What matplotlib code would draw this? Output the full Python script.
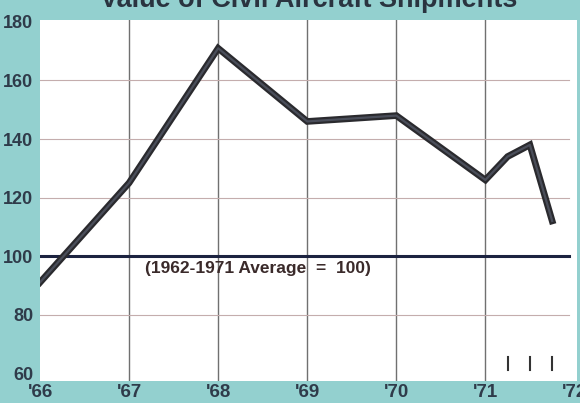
import matplotlib.pyplot as plt

# Value of civil aircraft shipments index (1962-1971 average = 100)
years = [1966.0, 1967.0, 1968.0, 1969.0, 1970.0, 1971.0, 1971.25, 1971.5, 1971.75]
values = [91, 125, 171, 146, 148, 126, 134, 138, 112]

x_ticks = [1966, 1967, 1968, 1969, 1970, 1971, 1972]
x_labels = ["'66", "'67", "'68", "'69", "'70", "'71", "'72"]
y_ticks = [60, 80, 100, 120, 140, 160, 180]
quarter_marks = [1971.25, 1971.5, 1971.75]

bg = "#93d0cf"
ink = "#2f3b4a"
plt.rcParams['font.family'] = ["Liberation Sans", "DejaVu Sans"]

fig = plt.figure(figsize=(5.8, 4.03), dpi=100, facecolor=bg)
ax = fig.add_axes([0.069, 0.0546, 0.926, 0.896])
ax.set_facecolor("white")

ax.set_xlim(1966, 1972.03)
ax.set_ylim(57.3, 180.7)

for x in x_ticks[1:-1]:
    ax.axvline(x, color="#707070", lw=1.0, zorder=1)
for y in [80, 120, 140, 160]:
    ax.axhline(y, color="#c4adad", lw=0.8, zorder=1, xmax=0.985)
ax.axhline(100, color="#1c2340", lw=2.2, zorder=2, xmax=0.985)

for q in quarter_marks:
    ax.plot([q, q], [61, 65.5], color="#333333", lw=1.5, zorder=2)

ax.plot(years, values, color="#2a2a2e", lw=4.8, solid_joinstyle="miter", zorder=3)
ax.plot(years, values, color="#4a4e5a", lw=1.6, zorder=4)

ax.text(1968.45, 95.9, "(1962-1971 Average  =  100)", fontsize=12.5, fontweight="bold",
        color="#3a2a2a", ha="center", va="center")

for s in ax.spines.values():
    s.set_visible(False)

ax.set_yticks(y_ticks)
ax.set_yticklabels([str(v) for v in y_ticks], fontsize=13, fontweight="bold", color=ink)
ax.tick_params(axis="y", length=0, pad=5)
ax.set_xticks([])

for x, lab in zip(x_ticks, x_labels):
    ax.text(x, 53.5, lab, fontsize=13.5, fontweight="bold", color=ink,
            ha="center", va="center", clip_on=False)

fig.text(0.533, 1.0, "Value of Civil Aircraft Shipments", fontsize=19.5,
         fontweight="bold", color="#2a3440", ha="center", va="center")

fig.savefig("out.png", dpi=100, facecolor=bg)
